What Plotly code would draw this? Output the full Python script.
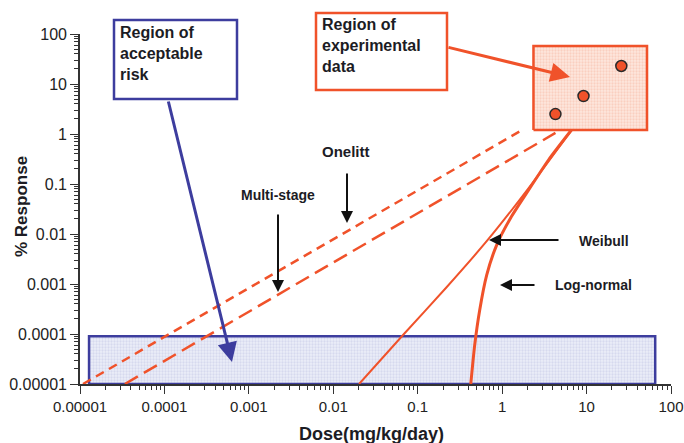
import plotly.graph_objects as go

# ---- data ----
x_tickvals = [1e-5, 1e-4, 1e-3, 1e-2, 1e-1, 1, 10, 100]
x_ticktext = ["0.00001", "0.0001", "0.001", "0.01", "0.1", "1", "10", "100"]
y_tickvals = [1e-5, 1e-4, 1e-3, 1e-2, 1e-1, 1, 10, 100]
y_ticktext = ["0.00001", "0.0001", "0.001", "0.01", "0.1", "1", "10", "100"]

onehit_x = [1.085e-5, 1.65]
onehit_y = [1e-5, 1.15]
multistage_x = [3.4e-5, 4.28]
multistage_y = [1e-5, 1.05]
weibull_x = [0.0202, 0.0687, 0.221, 0.675, 2.06, 6.62]
weibull_y = [1e-5, 1.0e-4, 8.7e-4, 7.6e-3, 0.083, 1.2]
lognormal_x = [0.425, 0.473, 0.542, 0.656, 0.861, 1.26, 2.06, 3.54, 6.62]
lognormal_y = [1e-5, 6.0e-5, 3.0e-4, 1.51e-3, 6.0e-3, 0.0209, 0.0759, 0.302, 1.2]
exp_x = [4.28, 9.2, 25.8]
exp_y = [2.5, 5.75, 22.9]
accept_x = [1.28e-5, 65]
accept_y = [1e-5, 9e-5]
expreg_x = [2.35, 52]
expreg_y = [1.2, 57.5]

FONT = "Liberation Sans, Arial, sans-serif"
ORANGE = "#f0522a"
BLUE = "#3d3d9e"
TXT = "#1c1c24"

# plot-area pixel frame: x 80..671, y 34..384
def px(x):
    return (x - 80) / 591.0

def py(y):
    return (384 - y) / 350.0

def rect(xs, ys):
    return [xs[0], xs[1], xs[1], xs[0], xs[0]], [ys[0], ys[0], ys[1], ys[1], ys[0]]

fig = go.Figure()

ax_, ay_ = rect(accept_x, accept_y)
fig.add_trace(go.Scatter(x=ax_, y=ay_, mode="lines", fill="toself",
                         fillcolor="#eceef8",
                         fillpattern=dict(shape=".", fgcolor="#bfc3e4", size=3, solidity=0.45),
                         line=dict(color=BLUE, width=2.5), hoverinfo="skip"))
ex_, ey_ = rect(expreg_x, expreg_y)
fig.add_trace(go.Scatter(x=ex_, y=ey_, mode="lines", fill="toself",
                         fillcolor="#fde7de",
                         fillpattern=dict(shape=".", fgcolor="#f6b8a2", size=3, solidity=0.45),
                         line=dict(color=ORANGE, width=2.5), hoverinfo="skip"))

fig.add_trace(go.Scatter(x=onehit_x, y=onehit_y, mode="lines",
                         line=dict(color=ORANGE, width=2.5, dash="9px,6px")))
fig.add_trace(go.Scatter(x=multistage_x, y=multistage_y, mode="lines",
                         line=dict(color=ORANGE, width=2.5, dash="15px,7px")))
fig.add_trace(go.Scatter(x=weibull_x, y=weibull_y, mode="lines",
                         line=dict(color=ORANGE, width=2, shape="spline", smoothing=0.6)))
fig.add_trace(go.Scatter(x=lognormal_x, y=lognormal_y, mode="lines",
                         line=dict(color=ORANGE, width=3, shape="spline", smoothing=0.6)))
fig.add_trace(go.Scatter(x=exp_x, y=exp_y, mode="markers",
                         marker=dict(color=ORANGE, size=11, line=dict(color="#2a2a2a", width=1.5))))

minor_vals = [m * 10 ** e for e in range(-5, 2) for m in range(2, 10)]

axis_common = dict(type="log", showgrid=False, zeroline=False, showline=True,
                   linecolor="#333333", ticks="outside", ticklen=8, tickwidth=1.2,
                   tickcolor="#333333", tickmode="array", ticklabeloverflow="allow",
                   automargin=False,
                   minor=dict(tickvals=minor_vals, ticks="outside", ticklen=4,
                              tickwidth=1, tickcolor="#333333", showgrid=False))

fig.update_xaxes(**axis_common, range=[-5, 2], tickvals=x_tickvals, ticktext=x_ticktext,
                 linewidth=2.2, tickfont=dict(family=FONT, size=15, color="#222222"))
fig.update_yaxes(**axis_common, range=[-5, 2], tickvals=y_tickvals, ticktext=y_ticktext,
                 linewidth=1.6, tickfont=dict(family=FONT, size=16, color="#222222"))

shapes = [
    dict(type="rect", xref="paper", yref="paper", x0=px(114), x1=px(237), y0=py(99), y1=py(20),
         line=dict(color=BLUE, width=2.5), fillcolor="white", layer="above"),
    dict(type="rect", xref="paper", yref="paper", x0=px(316), x1=px(447), y0=py(90), y1=py(13),
         line=dict(color=ORANGE, width=2.5), fillcolor="white", layer="above"),
]

def arrow(hx, hy, tx, ty, color, width, size=1.0):
    return dict(xref="paper", yref="paper", x=px(hx), y=py(hy), ax=tx - hx, ay=ty - hy,
                axref="pixel", ayref="pixel", text="", showarrow=True, arrowhead=2,
                arrowsize=size, arrowwidth=width, arrowcolor=color)

def label(x, y, text, size, xanchor="center", yanchor="middle", angle=0):
    return dict(xref="paper", yref="paper", x=px(x), y=py(y), text=text, showarrow=False,
                xanchor=xanchor, yanchor=yanchor, align="left", textangle=angle,
                font=dict(family=FONT, size=size, color=TXT))

annotations = [
    label(118, 22, "<b>Region of<br>acceptable<br>risk</b>", 16, "left", "top"),
    label(320, 14, "<b>Region of<br>experimental<br>data</b>", 16, "left", "top"),
    arrow(232, 362, 168, 100, BLUE, 3, 1.3),
    arrow(570, 77, 447, 47, ORANGE, 3, 1.3),
    label(346, 151, "<b>Onelitt</b>", 15),
    arrow(347, 223, 347, 172, "#111111", 2, 1.2),
    label(278, 195, "<b>Multi-stage</b>", 14),
    arrow(278, 292, 278, 213, "#111111", 2, 1.2),
    label(577, 241, "<b>Weibull</b>", 14, "left"),
    arrow(489, 240, 560, 240, "#111111", 2, 1.2),
    label(553, 285, "<b>Log-normal</b>", 14, "left"),
    arrow(500, 285, 536, 285, "#111111", 2, 1.2),
    label(21, 207, "<b>% Response</b>", 17, angle=-90),
    label(371, 434, "<b>Dose(mg/kg/day)</b>", 18),
]

fig.update_layout(width=684, height=443, margin=dict(l=80, r=13, t=34, b=59, autoexpand=False),
                  paper_bgcolor="white", plot_bgcolor="white", showlegend=False,
                  shapes=shapes, annotations=annotations,
                  font=dict(family=FONT, color=TXT))

fig.write_html("out.html", config={"displayModeBar": False},
               post_script="document.body.style.margin='0';document.body.style.overflow='hidden';")
